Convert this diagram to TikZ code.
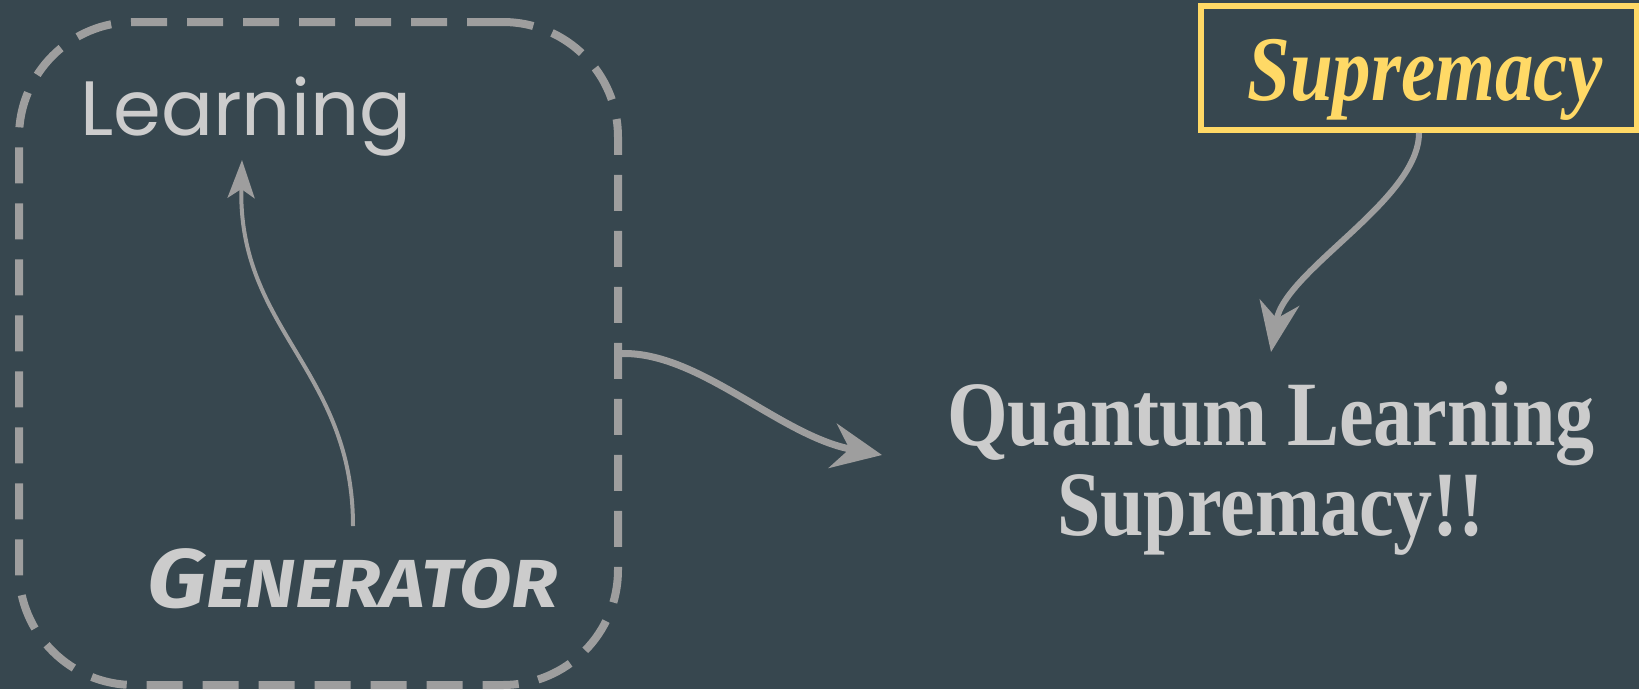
\documentclass[tikz,border=0pt]{standalone}
\usepackage{fontspec}
\usetikzlibrary{arrows.meta}
\setmainfont{Liberation Serif}
\newfontfamily\learnfont{Poppins}
\newfontfamily\genfont{Fira Sans}
\definecolor{bg}{HTML}{37474F}
\definecolor{linegray}{HTML}{9E9E9E}
\definecolor{txtgray}{HTML}{CCCCCC}
\definecolor{supyellow}{HTML}{FFD966}
\tikzset{
  frame/.style={draw=linegray, line width=8pt, rounded corners=115pt, dash pattern=on 36pt off 20pt, minimum width=599pt, minimum height=663pt, inner sep=0pt},
  supbox/.style={draw=supyellow, line width=6pt, minimum width=436pt, minimum height=124pt, inner sep=0pt},
  conn/.style={draw=linegray},
}
\begin{document}
\begin{tikzpicture}[x=1pt,y=-1pt]
\fill[bg] (0,0) rectangle (1639,689);
\useasboundingbox (0,0) rectangle (1639,689);

\node[frame] (frame) at (318.5,353.5) {};
\node[anchor=base west, inner sep=0pt, text=txtgray, font=\learnfont\fontsize{77}{77}\selectfont] (learn) at (80,135) {Learning};
\node[anchor=base west, inner sep=0pt, text=txtgray, xscale=1.12, font=\genfont\bfseries\itshape] (gen) at (147,607) {\fontsize{83}{83}\selectfont G\fontsize{68}{68}\selectfont ENERATOR};

\node[supbox] (sup) at (1419,68) {};
\node[anchor=base west, inner sep=0pt, text=supyellow, yscale=1.2, font=\bfseries\itshape\fontsize{77}{77}\selectfont] (suptxt) at (1247,100) {Supremacy};

\node[anchor=north, align=center, inner sep=0pt, text=txtgray, yscale=1.18, font=\bfseries\fontsize{78}{77}\selectfont] (qls) at (1271,381) {Quantum Learning\\Supremacy!!};

\coordinate (g0) at (353,526);
\coordinate (l0) at (242,160);
\draw[conn, line width=4pt, -{Stealth[length=38pt, width=27pt, inset=9pt]}] (g0) .. controls (353,370) and (238,330) .. (l0);

\coordinate (f0) at (frame.east);
\coordinate (q0) at (882,455);
\draw[conn, line width=7pt, -{Stealth[length=50pt, width=45pt, inset=17pt]}] (f0) .. controls (700,352) and (780,436) .. (q0);

\coordinate (s0) at (sup.south);
\coordinate (q1) at (1271,352);
\draw[conn, line width=6pt, -{Stealth[length=50pt, width=40pt, inset=16pt]}] (s0) .. controls (1419,200) and (1285,270) .. (q1);
\end{tikzpicture}
\end{document}
